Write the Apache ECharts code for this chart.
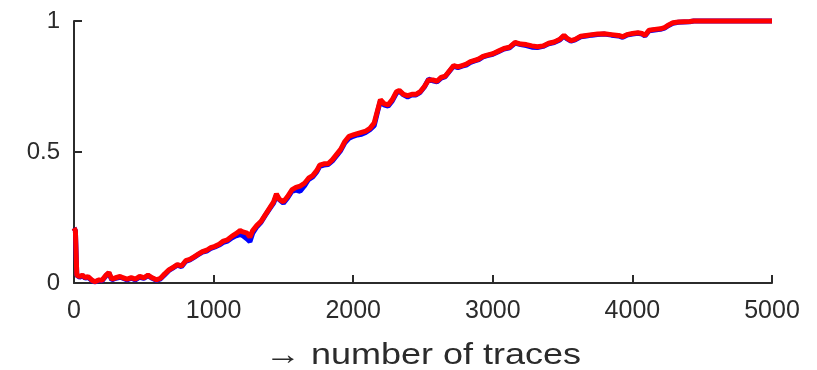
<!DOCTYPE html>
<html>
<head>
<meta charset="utf-8">
<script src="https://cdn.jsdelivr.net/npm/echarts@6/dist/echarts.min.js"></script>
<style>
  html, body { margin: 0; padding: 0; background: #fff; }
  #chart { width: 817px; height: 370px; }
</style>
</head>
<body>
<div id="chart"></div>
<script>
// Number of traces at which each curve was sampled
const traces = [
  0, 10, 20, 40, 60, 80, 100, 130, 150, 180, 200, 230, 250, 270, 300, 330, 350, 380, 410, 440,
  470, 500, 530, 560, 590, 620, 650, 680, 710, 740, 770, 800, 830, 860, 890, 920, 950, 980, 1010, 1040,
  1070, 1100, 1130, 1160, 1190, 1210, 1240, 1260, 1280, 1310, 1340, 1370, 1400, 1430, 1450, 1470, 1500, 1530, 1560, 1590,
  1620, 1650, 1680, 1710, 1740, 1760, 1790, 1820, 1850, 1880, 1910, 1940, 1970, 2000, 2030, 2060, 2090, 2120, 2150, 2175,
  2195, 2220, 2250, 2280, 2310, 2330, 2360, 2390, 2420, 2450, 2480, 2510, 2540, 2570, 2600, 2630, 2660, 2690, 2720, 2750,
  2780, 2810, 2840, 2870, 2900, 2930, 2960, 3000, 3040, 3080, 3120, 3160, 3200, 3240, 3280, 3320, 3360, 3400, 3440, 3480,
  3510, 3530, 3560, 3590, 3630, 3670, 3710, 3750, 3800, 3850, 3900, 3930, 3960, 4000, 4040, 4070, 4090, 4120, 4160, 4200,
  4230, 4260, 4290, 4330, 4370, 4410, 4440, 5000
];

// Blue curve (drawn underneath)
const blueValues = [
  0.21, 0.20, 0.03, 0.022, 0.028, 0.018, 0.022, 0.008, 0.004, 0.01, 0.008, 0.028, 0.038, 0.012, 0.018, 0.022, 0.018, 0.012, 0.018, 0.012,
  0.022, 0.018, 0.028, 0.018, 0.01, 0.016, 0.032, 0.048, 0.058, 0.068, 0.062, 0.082, 0.088, 0.098, 0.108, 0.118, 0.122, 0.132, 0.138, 0.145,
  0.155, 0.16, 0.172, 0.18, 0.185, 0.18, 0.168, 0.158, 0.19, 0.215, 0.232, 0.258, 0.282, 0.305, 0.335, 0.318, 0.305, 0.325, 0.35, 0.355,
  0.35, 0.37, 0.395, 0.405, 0.425, 0.445, 0.45, 0.452, 0.465, 0.485, 0.505, 0.535, 0.552, 0.56, 0.565, 0.568, 0.575, 0.585, 0.6, 0.655,
  0.695, 0.68, 0.675, 0.695, 0.725, 0.732, 0.718, 0.71, 0.718, 0.718, 0.728, 0.748, 0.778, 0.772, 0.768, 0.782, 0.788, 0.808, 0.828, 0.822,
  0.828, 0.832, 0.842, 0.848, 0.853, 0.863, 0.868, 0.873, 0.883, 0.893, 0.898, 0.916, 0.91, 0.906, 0.9, 0.899, 0.903, 0.913, 0.918, 0.928,
  0.943, 0.933, 0.923, 0.928, 0.94, 0.943, 0.946, 0.948, 0.95, 0.946, 0.943, 0.938, 0.946, 0.95, 0.953, 0.95, 0.943, 0.963, 0.966, 0.968,
  0.973, 0.983, 0.991, 0.995, 0.996, 0.997, 1, 1
];

// Red curve (drawn on top)
const redValues = [
  0.21, 0.20, 0.03, 0.025, 0.03, 0.02, 0.025, 0.01, 0.005, 0.012, 0.01, 0.03, 0.04, 0.015, 0.02, 0.025, 0.02, 0.015, 0.02, 0.015,
  0.025, 0.02, 0.03, 0.02, 0.012, 0.018, 0.035, 0.05, 0.06, 0.07, 0.065, 0.085, 0.09, 0.1, 0.11, 0.12, 0.125, 0.135, 0.14, 0.148,
  0.16, 0.165, 0.178, 0.188, 0.2, 0.195, 0.19, 0.175, 0.2, 0.22, 0.235, 0.26, 0.285, 0.31, 0.34, 0.32, 0.31, 0.33, 0.355, 0.365,
  0.37, 0.38, 0.4, 0.41, 0.43, 0.45, 0.455, 0.455, 0.47, 0.49, 0.51, 0.54, 0.56, 0.565, 0.57, 0.575, 0.58, 0.59, 0.61, 0.66,
  0.70, 0.685, 0.68, 0.7, 0.73, 0.735, 0.72, 0.715, 0.72, 0.72, 0.73, 0.75, 0.775, 0.775, 0.77, 0.785, 0.79, 0.81, 0.83, 0.825,
  0.83, 0.835, 0.845, 0.85, 0.855, 0.865, 0.87, 0.875, 0.885, 0.895, 0.9, 0.918, 0.912, 0.91, 0.905, 0.902, 0.905, 0.915, 0.92, 0.93,
  0.945, 0.935, 0.925, 0.93, 0.942, 0.945, 0.948, 0.95, 0.951, 0.948, 0.945, 0.94, 0.948, 0.952, 0.955, 0.952, 0.945, 0.965, 0.968, 0.97,
  0.975, 0.985, 0.993, 0.996, 0.997, 0.998, 1, 1
];

const xTicks = [0, 1000, 2000, 3000, 4000, 5000];
const yTicks = [0, 0.5, 1];
const xTitle = '\u2192 number of traces';

const axisColor = '#2b2b2b';
const textColor = '#2b2b2b';
const fontFamily = '"Liberation Sans", Arial, Helvetica, sans-serif';

const gridLeft = 74, gridRight = 45, gridTop = 21, gridBottom = 87;
const chartWidth = 817;

const chart = echarts.init(document.getElementById('chart'), null, { renderer: 'canvas' });

chart.setOption({
  animation: false,
  backgroundColor: '#ffffff',
  grid: {
    left: gridLeft, right: gridRight, top: gridTop, bottom: gridBottom,
    containLabel: false,
    outerBoundsMode: 'none'
  },
  xAxis: {
    type: 'value',
    min: xTicks[0],
    max: xTicks[xTicks.length - 1],
    interval: xTicks[1] - xTicks[0],
    axisLine: { show: true, lineStyle: { color: axisColor, width: 2 } },
    axisTick: { show: true, inside: true, length: 8, lineStyle: { color: axisColor, width: 2 } },
    axisLabel: {
      fontSize: 25, color: textColor, fontFamily: fontFamily, margin: 16,
      formatter: v => String(v)
    },
    splitLine: { show: false }
  },
  yAxis: {
    type: 'value',
    min: yTicks[0],
    max: yTicks[yTicks.length - 1],
    interval: yTicks[1] - yTicks[0],
    axisLine: { show: true, lineStyle: { color: axisColor, width: 2 } },
    axisTick: { show: true, inside: true, length: 8, lineStyle: { color: axisColor, width: 2 } },
    axisLabel: {
      fontSize: 24, color: textColor, fontFamily: fontFamily, margin: 14,
      formatter: v => String(v)
    },
    splitLine: { show: false }
  },
  // Axis title, slightly widened horizontally to match the wide lettering
  graphic: [
    {
      type: 'text',
      x: gridLeft + (chartWidth - gridLeft - gridRight) / 2,
      y: 356,
      scaleX: 1.2,
      style: {
        text: xTitle,
        fill: textColor,
        font: '30px ' + fontFamily,
        align: 'center',
        verticalAlign: 'middle'
      }
    }
  ],
  series: [
    {
      type: 'line',
      data: traces.map((t, i) => [t, blueValues[i]]),
      showSymbol: false,
      symbol: 'none',
      clip: false,
      lineStyle: { color: '#0000ff', width: 5 },
      z: 2
    },
    {
      type: 'line',
      data: traces.map((t, i) => [t, redValues[i]]),
      showSymbol: false,
      symbol: 'none',
      clip: false,
      lineStyle: { color: '#ff0000', width: 5 },
      z: 3
    }
  ]
});
</script>
</body>
</html>
